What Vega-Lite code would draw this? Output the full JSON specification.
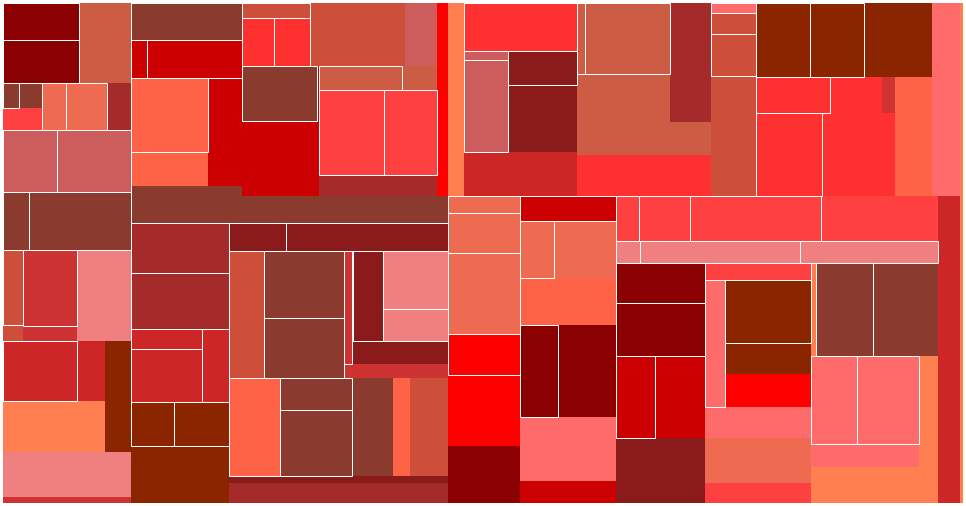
{
  "$schema": "https://vega.github.io/schema/vega-lite/v6.json",
  "width": 966,
  "height": 506,
  "autosize": "none",
  "padding": 0,
  "config": {"view": {"stroke": null}},
  "data": {"values": [
    {"x0":80,"x1":131,"y0":3,"y1":83,"c":"coral3","leaf":0},
    {"x0":19,"x1":42,"y0":83,"y1":108,"c":"brownish","leaf":0},
    {"x0":3,"x1":42,"y0":108,"y1":130,"c":"brown1","leaf":0},
    {"x0":107,"x1":131,"y0":83,"y1":130,"c":"brown","leaf":0},
    {"x0":77,"x1":131,"y0":250,"y1":341,"c":"lightcoral","leaf":0},
    {"x0":3,"x1":23,"y0":325,"y1":341,"c":"tomato3","leaf":0},
    {"x0":23,"x1":77,"y0":326,"y1":341,"c":"brown3","leaf":0},
    {"x0":77,"x1":105,"y0":341,"y1":401,"c":"firebrick3","leaf":0},
    {"x0":105,"x1":131,"y0":341,"y1":452,"c":"orangered4","leaf":0},
    {"x0":3,"x1":105,"y0":401,"y1":452,"c":"coral","leaf":0},
    {"x0":3,"x1":131,"y0":452,"y1":497,"c":"lightcoral","leaf":0},
    {"x0":3,"x1":131,"y0":497,"y1":503,"c":"brown3","leaf":0},
    {"x0":131,"x1":208,"y0":152,"y1":186,"c":"tomato","leaf":0},
    {"x0":208,"x1":319,"y0":66,"y1":196,"c":"red3","leaf":0},
    {"x0":131,"x1":242,"y0":186,"y1":223,"c":"brownish","leaf":0},
    {"x0":242,"x1":448,"y0":196,"y1":223,"c":"brownish","leaf":0},
    {"x0":310,"x1":405,"y0":3,"y1":66,"c":"tomato3","leaf":0},
    {"x0":405,"x1":437,"y0":3,"y1":66,"c":"indianred","leaf":0},
    {"x0":437,"x1":448,"y0":3,"y1":196,"c":"red","leaf":0},
    {"x0":402,"x1":437,"y0":66,"y1":90,"c":"coral3","leaf":0},
    {"x0":319,"x1":437,"y0":175,"y1":196,"c":"brown","leaf":0},
    {"x0":353,"x1":448,"y0":341,"y1":364,"c":"firebrick4","leaf":0},
    {"x0":344,"x1":448,"y0":364,"y1":378,"c":"brown3","leaf":0},
    {"x0":352,"x1":393,"y0":378,"y1":476,"c":"brownish","leaf":0},
    {"x0":393,"x1":410,"y0":378,"y1":476,"c":"tomato","leaf":0},
    {"x0":410,"x1":448,"y0":378,"y1":476,"c":"tomato3","leaf":0},
    {"x0":229,"x1":448,"y0":476,"y1":483,"c":"firebrick4","leaf":0},
    {"x0":229,"x1":448,"y0":483,"y1":503,"c":"brown","leaf":0},
    {"x0":131,"x1":229,"y0":446,"y1":503,"c":"orangered4","leaf":0},
    {"x0":448,"x1":464,"y0":3,"y1":196,"c":"coral","leaf":0},
    {"x0":508,"x1":577,"y0":85,"y1":152,"c":"firebrick4","leaf":0},
    {"x0":464,"x1":577,"y0":152,"y1":196,"c":"firebrick3","leaf":0},
    {"x0":670,"x1":711,"y0":3,"y1":122,"c":"brown","leaf":0},
    {"x0":577,"x1":670,"y0":74,"y1":122,"c":"coral3","leaf":0},
    {"x0":577,"x1":711,"y0":122,"y1":155,"c":"coral3","leaf":0},
    {"x0":577,"x1":711,"y0":155,"y1":196,"c":"firebrick1","leaf":0},
    {"x0":711,"x1":756,"y0":76,"y1":196,"c":"tomato3","leaf":0},
    {"x0":864,"x1":932,"y0":3,"y1":77,"c":"orangered4","leaf":0},
    {"x0":932,"x1":960,"y0":3,"y1":196,"c":"indianred1","leaf":0},
    {"x0":960,"x1":963,"y0":3,"y1":196,"c":"coral","leaf":0},
    {"x0":830,"x1":882,"y0":77,"y1":113,"c":"firebrick1","leaf":0},
    {"x0":882,"x1":895,"y0":77,"y1":113,"c":"brown3","leaf":0},
    {"x0":895,"x1":932,"y0":77,"y1":196,"c":"tomato","leaf":0},
    {"x0":822,"x1":895,"y0":113,"y1":196,"c":"firebrick1","leaf":0},
    {"x0":448,"x1":520,"y0":375,"y1":446,"c":"red","leaf":0},
    {"x0":448,"x1":520,"y0":446,"y1":503,"c":"darkred","leaf":0},
    {"x0":554,"x1":616,"y0":221,"y1":278,"c":"coral2","leaf":0},
    {"x0":520,"x1":616,"y0":278,"y1":325,"c":"tomato","leaf":0},
    {"x0":558,"x1":616,"y0":325,"y1":417,"c":"darkred","leaf":0},
    {"x0":520,"x1":616,"y0":417,"y1":481,"c":"indianred1","leaf":0},
    {"x0":520,"x1":616,"y0":481,"y1":503,"c":"red3","leaf":0},
    {"x0":821,"x1":940,"y0":196,"y1":241,"c":"brown1","leaf":0},
    {"x0":655,"x1":705,"y0":356,"y1":438,"c":"red3","leaf":0},
    {"x0":616,"x1":705,"y0":438,"y1":503,"c":"firebrick4","leaf":0},
    {"x0":725,"x1":811,"y0":343,"y1":374,"c":"orangered4","leaf":0},
    {"x0":725,"x1":811,"y0":374,"y1":407,"c":"red","leaf":0},
    {"x0":705,"x1":811,"y0":407,"y1":438,"c":"indianred1","leaf":0},
    {"x0":705,"x1":811,"y0":438,"y1":483,"c":"coral2","leaf":0},
    {"x0":705,"x1":811,"y0":483,"y1":503,"c":"brown1","leaf":0},
    {"x0":811,"x1":938,"y0":263,"y1":503,"c":"coral","leaf":0},
    {"x0":873,"x1":938,"y0":263,"y1":356,"c":"brownish","leaf":0},
    {"x0":811,"x1":919,"y0":444,"y1":467,"c":"indianred1","leaf":0},
    {"x0":938,"x1":960,"y0":196,"y1":503,"c":"firebrick3","leaf":0},
    {"x0":960,"x1":963,"y0":196,"y1":503,"c":"coral","leaf":0},

    {"x0":3,"x1":79,"y0":3,"y1":40,"c":"darkred","leaf":1},
    {"x0":3,"x1":79,"y0":40,"y1":83,"c":"darkred","leaf":1},
    {"x0":3,"x1":19,"y0":83,"y1":108,"c":"brownish","leaf":1},
    {"x0":42,"x1":66,"y0":83,"y1":130,"c":"coral2","leaf":1},
    {"x0":66,"x1":107,"y0":83,"y1":130,"c":"coral2","leaf":1},
    {"x0":3,"x1":57,"y0":130,"y1":192,"c":"indianred","leaf":1},
    {"x0":57,"x1":131,"y0":130,"y1":192,"c":"indianred","leaf":1},
    {"x0":3,"x1":29,"y0":192,"y1":250,"c":"brownish","leaf":1},
    {"x0":29,"x1":131,"y0":192,"y1":250,"c":"brownish","leaf":1},
    {"x0":3,"x1":23,"y0":250,"y1":325,"c":"tomato3","leaf":1},
    {"x0":23,"x1":77,"y0":250,"y1":326,"c":"brown3","leaf":1},
    {"x0":3,"x1":77,"y0":341,"y1":401,"c":"firebrick3","leaf":1},
    {"x0":131,"x1":242,"y0":3,"y1":40,"c":"brownish","leaf":1},
    {"x0":131,"x1":147,"y0":40,"y1":78,"c":"red3","leaf":1},
    {"x0":147,"x1":242,"y0":40,"y1":78,"c":"red3","leaf":1},
    {"x0":131,"x1":208,"y0":78,"y1":152,"c":"tomato","leaf":1},
    {"x0":131,"x1":229,"y0":223,"y1":273,"c":"brown","leaf":1},
    {"x0":131,"x1":229,"y0":273,"y1":329,"c":"brown","leaf":1},
    {"x0":229,"x1":286,"y0":223,"y1":251,"c":"firebrick4","leaf":1},
    {"x0":286,"x1":448,"y0":223,"y1":251,"c":"firebrick4","leaf":1},
    {"x0":131,"x1":202,"y0":329,"y1":349,"c":"firebrick3","leaf":1},
    {"x0":131,"x1":202,"y0":349,"y1":402,"c":"firebrick3","leaf":1},
    {"x0":202,"x1":229,"y0":329,"y1":402,"c":"firebrick3","leaf":1},
    {"x0":131,"x1":174,"y0":402,"y1":446,"c":"orangered4","leaf":1},
    {"x0":174,"x1":229,"y0":402,"y1":446,"c":"orangered4","leaf":1},
    {"x0":229,"x1":264,"y0":251,"y1":378,"c":"tomato3","leaf":1},
    {"x0":229,"x1":280,"y0":378,"y1":476,"c":"tomato","leaf":1},
    {"x0":264,"x1":344,"y0":251,"y1":318,"c":"brownish","leaf":1},
    {"x0":264,"x1":344,"y0":318,"y1":378,"c":"brownish","leaf":1},
    {"x0":344,"x1":352,"y0":251,"y1":364,"c":"brown3","leaf":1},
    {"x0":353,"x1":383,"y0":251,"y1":341,"c":"firebrick4","leaf":1},
    {"x0":383,"x1":448,"y0":251,"y1":309,"c":"lightcoral","leaf":1},
    {"x0":383,"x1":448,"y0":309,"y1":341,"c":"lightcoral","leaf":1},
    {"x0":280,"x1":352,"y0":378,"y1":410,"c":"brownish","leaf":1},
    {"x0":280,"x1":352,"y0":410,"y1":476,"c":"brownish","leaf":1},
    {"x0":242,"x1":310,"y0":3,"y1":18,"c":"tomato3","leaf":1},
    {"x0":242,"x1":274,"y0":18,"y1":66,"c":"firebrick1","leaf":1},
    {"x0":274,"x1":310,"y0":18,"y1":66,"c":"firebrick1","leaf":1},
    {"x0":242,"x1":317,"y0":66,"y1":121,"c":"brownish","leaf":1},
    {"x0":319,"x1":402,"y0":66,"y1":90,"c":"coral3","leaf":1},
    {"x0":319,"x1":384,"y0":90,"y1":175,"c":"brown1","leaf":1},
    {"x0":384,"x1":437,"y0":90,"y1":175,"c":"brown1","leaf":1},
    {"x0":464,"x1":577,"y0":3,"y1":51,"c":"firebrick1","leaf":1},
    {"x0":464,"x1":508,"y0":51,"y1":60,"c":"indianred","leaf":1},
    {"x0":464,"x1":508,"y0":60,"y1":152,"c":"indianred","leaf":1},
    {"x0":508,"x1":577,"y0":51,"y1":85,"c":"firebrick4","leaf":1},
    {"x0":577,"x1":585,"y0":3,"y1":74,"c":"coral3","leaf":1},
    {"x0":585,"x1":670,"y0":3,"y1":74,"c":"coral3","leaf":1},
    {"x0":711,"x1":756,"y0":3,"y1":13,"c":"indianred1","leaf":1},
    {"x0":711,"x1":756,"y0":13,"y1":34,"c":"tomato3","leaf":1},
    {"x0":711,"x1":756,"y0":34,"y1":76,"c":"tomato3","leaf":1},
    {"x0":756,"x1":810,"y0":3,"y1":77,"c":"orangered4","leaf":1},
    {"x0":810,"x1":864,"y0":3,"y1":77,"c":"orangered4","leaf":1},
    {"x0":756,"x1":830,"y0":77,"y1":113,"c":"firebrick1","leaf":1},
    {"x0":756,"x1":822,"y0":113,"y1":196,"c":"firebrick1","leaf":1},
    {"x0":448,"x1":520,"y0":196,"y1":213,"c":"coral2","leaf":1},
    {"x0":448,"x1":520,"y0":213,"y1":253,"c":"coral2","leaf":1},
    {"x0":448,"x1":520,"y0":253,"y1":334,"c":"coral2","leaf":1},
    {"x0":448,"x1":520,"y0":334,"y1":375,"c":"red","leaf":1},
    {"x0":520,"x1":616,"y0":196,"y1":221,"c":"red3","leaf":1},
    {"x0":520,"x1":554,"y0":221,"y1":278,"c":"coral2","leaf":1},
    {"x0":520,"x1":558,"y0":325,"y1":417,"c":"darkred","leaf":1},
    {"x0":616,"x1":639,"y0":196,"y1":241,"c":"brown1","leaf":1},
    {"x0":639,"x1":690,"y0":196,"y1":241,"c":"brown1","leaf":1},
    {"x0":690,"x1":821,"y0":196,"y1":241,"c":"brown1","leaf":1},
    {"x0":616,"x1":640,"y0":241,"y1":263,"c":"lightcoral","leaf":1},
    {"x0":640,"x1":800,"y0":241,"y1":263,"c":"lightcoral","leaf":1},
    {"x0":800,"x1":938,"y0":241,"y1":263,"c":"lightcoral","leaf":1},
    {"x0":616,"x1":705,"y0":263,"y1":303,"c":"darkred","leaf":1},
    {"x0":616,"x1":705,"y0":303,"y1":356,"c":"darkred","leaf":1},
    {"x0":705,"x1":811,"y0":263,"y1":280,"c":"brown1","leaf":1},
    {"x0":705,"x1":725,"y0":280,"y1":407,"c":"indianred1","leaf":1},
    {"x0":725,"x1":811,"y0":280,"y1":343,"c":"orangered4","leaf":1},
    {"x0":616,"x1":655,"y0":356,"y1":438,"c":"red3","leaf":1},
    {"x0":816,"x1":873,"y0":263,"y1":356,"c":"brownish","leaf":1},
    {"x0":811,"x1":857,"y0":356,"y1":444,"c":"indianred1","leaf":1},
    {"x0":857,"x1":919,"y0":356,"y1":444,"c":"indianred1","leaf":1}
  ]},
  "resolve": {"scale": {"x": "independent", "y": "independent"}, "axis": {"x": "independent", "y": "independent"}},
  "layer": [
    {
      "transform": [{"filter": "datum.leaf == 0"}],
      "mark": {"type": "rect"},
      "encoding": {
        "x": {"field": "x0", "type": "quantitative", "scale": {"domain": [0, 966], "nice": false, "zero": false}, "axis": null},
        "x2": {"field": "x1"},
        "y": {"field": "y0", "type": "quantitative", "scale": {"domain": [0, 506], "nice": false, "zero": false, "reverse": true}, "axis": null},
        "y2": {"field": "y1"},
        "color": {
          "field": "c", "type": "nominal", "legend": null,
          "scale": {
            "domain": ["darkred","brownish","coral3","tomato3","red3","tomato","firebrick1","brown1","indianred","red","coral","brown","firebrick4","firebrick3","brown3","coral2","lightcoral","orangered4","indianred1"],
            "range": ["#8B0000","#8B3A2E","#CD5C45","#CD4F39","#CC0000","#FF6347","#FF3030","#FF4040","#CD5C5C","#FF0000","#FF7F50","#A52A2A","#8B1A1A","#CD2626","#CD3333","#EE6A50","#F08080","#8B2500","#FF6A6A"]
          }
        }
      }
    },
    {
      "transform": [{"filter": "datum.leaf == 1"}],
      "mark": {"type": "rect", "stroke": "white", "strokeWidth": 1},
      "encoding": {
        "x": {"field": "x0", "type": "quantitative", "scale": {"domain": [-0.5, 965.5], "nice": false, "zero": false}, "axis": null},
        "x2": {"field": "x1"},
        "y": {"field": "y0", "type": "quantitative", "scale": {"domain": [-0.5, 505.5], "nice": false, "zero": false, "reverse": true}, "axis": null},
        "y2": {"field": "y1"},
        "color": {
          "field": "c", "type": "nominal", "legend": null,
          "scale": {
            "domain": ["darkred","brownish","coral3","tomato3","red3","tomato","firebrick1","brown1","indianred","red","coral","brown","firebrick4","firebrick3","brown3","coral2","lightcoral","orangered4","indianred1"],
            "range": ["#8B0000","#8B3A2E","#CD5C45","#CD4F39","#CC0000","#FF6347","#FF3030","#FF4040","#CD5C5C","#FF0000","#FF7F50","#A52A2A","#8B1A1A","#CD2626","#CD3333","#EE6A50","#F08080","#8B2500","#FF6A6A"]
          }
        }
      }
    }
  ]
}
